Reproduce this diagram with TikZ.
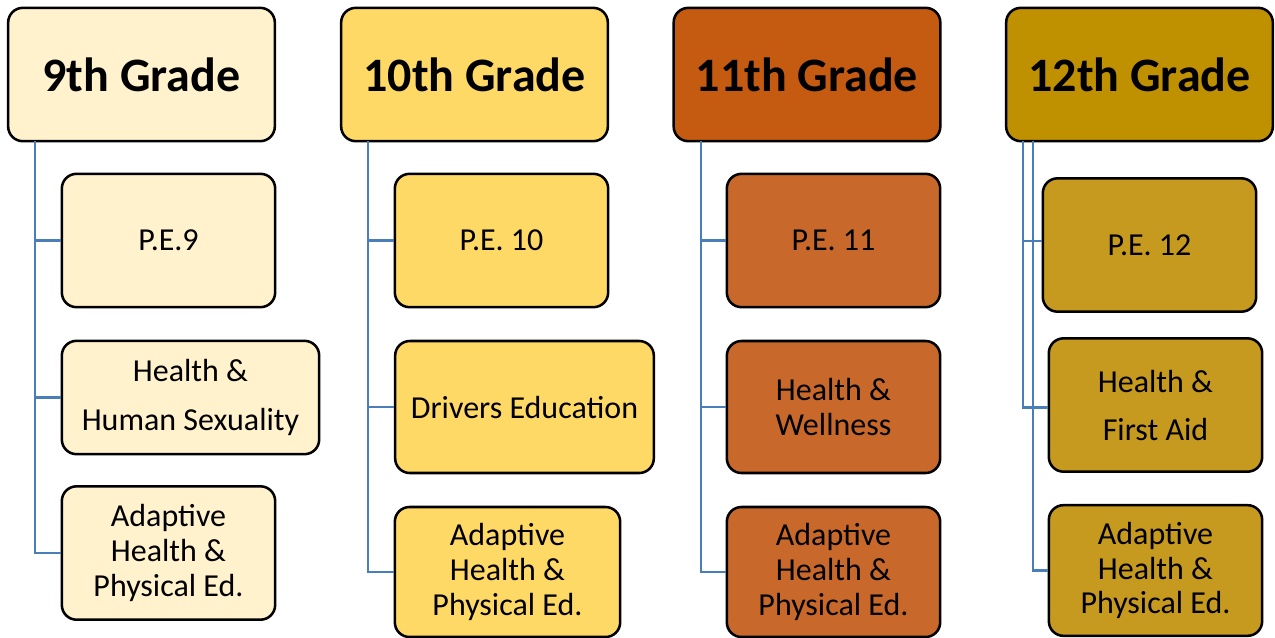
\documentclass[tikz,border=0pt]{standalone}
\usepackage{fontspec}
\setmainfont{Carlito}
\definecolor{cream}{HTML}{FFF2CC}
\definecolor{sand}{HTML}{FFD966}
\definecolor{rust}{HTML}{C55A11}
\definecolor{rustkid}{HTML}{C8692B}
\definecolor{ochre}{HTML}{BF9000}
\definecolor{ochrekid}{HTML}{C59A1E}
\definecolor{linkblue}{HTML}{4A7EBB}
\begin{document}
\begin{tikzpicture}[x=0.75pt,y=-0.75pt,
    box/.style={draw=black, line width=1.9pt, rounded corners=11pt, align=center, inner sep=0pt},
    grade/.style={box, minimum width=200pt, minimum height=100pt, font=\fontsize{36}{40}\selectfont\bfseries},
    course/.style={box, minimum width=160pt, minimum height=100pt, font=\fontsize{24}{26}\selectfont},
    link/.style={draw=linkblue, line width=1.8pt}]

    \useasboundingbox (0,0) rectangle (1275,637);

    % 9th grade
    \node[grade, fill=cream] (h9) at (141.5,74.5) {9th Grade};
    \node[course, fill=cream] (pe9) at (168.5,240.5) {P.E.9};
    \node[course, fill=cream, minimum width=193pt, minimum height=85pt] (hs9) at (190.5,397.5) {Health \&\\[11pt]Human Sexuality};
    \node[course, fill=cream] (ad9) at (168.5,553) {Adaptive\\Health \&\\Physical Ed.};
    \coordinate (t9) at (35,141);
    \draw[link] (t9) |- (pe9.west);
    \draw[link] (t9) |- (hs9.west);
    \draw[link] (t9) |- (ad9.west);

    % 10th grade
    \node[grade, fill=sand] (h10) at (474.5,74.5) {10th Grade};
    \node[course, fill=sand] (pe10) at (501.5,240.5) {P.E. 10};
    \node[course, fill=sand, minimum width=194pt, minimum height=99pt] (dr10) at (524.5,407) {Drivers Education};
    \node[course, fill=sand, minimum width=169pt, minimum height=97.5pt] (ad10) at (507.5,572) {Adaptive\\Health \&\\Physical Ed.};
    \coordinate (t10) at (368,141);
    \draw[link] (t10) |- (pe10.west);
    \draw[link] (t10) |- (dr10.west);
    \draw[link] (t10) |- (ad10.west);

    % 11th grade
    \node[grade, fill=rust] (h11) at (807,74.5) {11th Grade};
    \node[course, fill=rustkid] (pe11) at (833.5,240.5) {P.E. 11};
    \node[course, fill=rustkid, minimum height=99pt] (hw11) at (833.5,407) {Health \&\\Wellness};
    \node[course, fill=rustkid, minimum height=97.5pt] (ad11) at (833.5,572) {Adaptive\\Health \&\\Physical Ed.};
    \coordinate (t11) at (701,141);
    \draw[link] (t11) |- (pe11.west);
    \draw[link] (t11) |- (hw11.west);
    \draw[link] (t11) |- (ad11.west);

    % 12th grade
    \node[grade, fill=ochre] (h12) at (1139.5,74.5) {12th Grade};
    \node[course, fill=ochrekid] (pe12) at (1149.5,245) {P.E. 12};
    \node[course, fill=ochrekid] (fa12) at (1155.5,405) {Health \&\\[10pt]First Aid};
    \node[course, fill=ochrekid, minimum height=98pt] (ad12) at (1155.5,570.5) {Adaptive\\Health \&\\Physical Ed.};
    \coordinate (t12a) at (1023,141);
    \coordinate (t12b) at (1033,141);
    \draw[link] (t12a) |- ([yshift=3pt]pe12.west);
    \draw[link] (t12a) |- ([yshift=-2pt]fa12.west);
    \draw[link] (t12b) |- (ad12.west);

\end{tikzpicture}
\end{document}
